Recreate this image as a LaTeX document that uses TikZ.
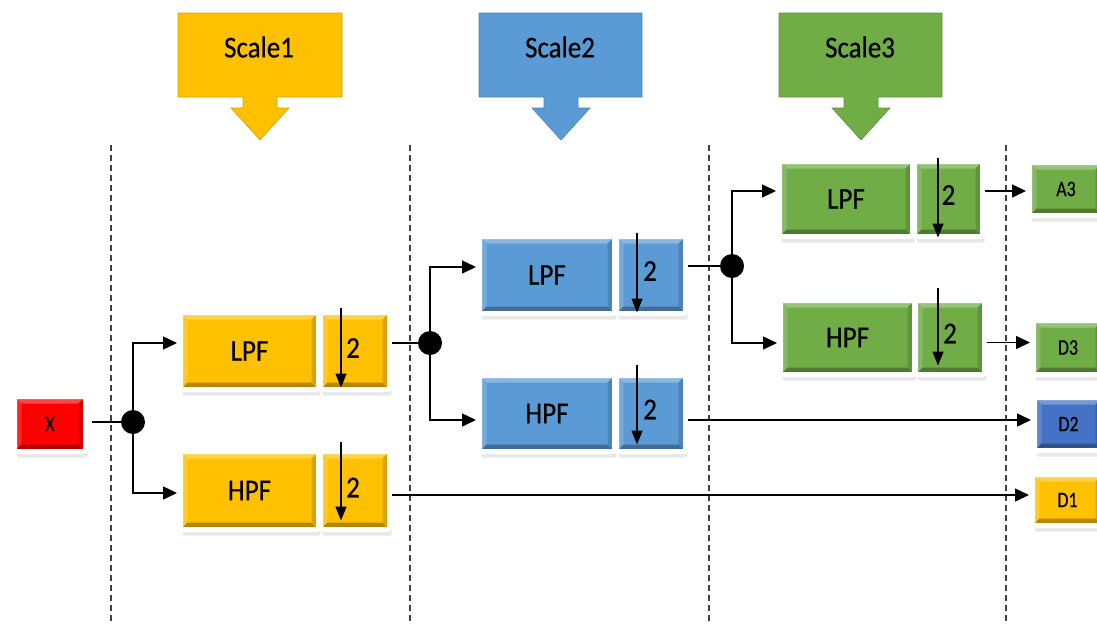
\documentclass[tikz,border=0pt]{standalone}
\usepackage{fontspec}
\setmainfont{Carlito}
\newfontfamily\embf{Carlito}[FakeBold=0.5]
\usetikzlibrary{shadows,arrows.meta,calc}
\definecolor{cy}{HTML}{FFC000}
\definecolor{cb}{HTML}{5B9BD5}
\definecolor{cg}{HTML}{70AD47}
\definecolor{cd}{HTML}{4472C4}
\definecolor{cr}{HTML}{FF0000}
\newcommand\bigtxt[1]{\embf\fontsize{27}{27}\selectfont\scalebox{1}[1.12]{#1}}
\newcommand\smtxt[1]{\embf\fontsize{21}{21}\selectfont\scalebox{0.85}[1.05]{#1}}
\tikzset{
  bev/.style={rectangle, inner sep=0pt, rounded corners=2pt, fill=#1, draw=white, line width=5pt,
    drop shadow={opacity=0.18, shadow xshift=2pt, shadow yshift=-6pt},
    path picture={
      \coordinate (ppsw) at (path picture bounding box.south west);
      \coordinate (ppne) at (path picture bounding box.north east);
      \coordinate (ppnw) at (path picture bounding box.north west);
      \coordinate (ppse) at (path picture bounding box.south east);
      \fill[sharp corners,#1!72!white] (ppnw) -- (ppne) -- ([xshift=-7pt,yshift=-7pt]ppne) -- ([xshift=7pt,yshift=-7pt]ppnw) -- cycle;
      \fill[sharp corners,#1!85!white] (ppnw) -- (ppsw) -- ([xshift=7pt,yshift=7pt]ppsw) -- ([xshift=7pt,yshift=-7pt]ppnw) -- cycle;
      \fill[sharp corners,#1!70!black] (ppsw) -- (ppse) -- ([xshift=-7pt,yshift=7pt]ppse) -- ([xshift=7pt,yshift=7pt]ppsw) -- cycle;
      \fill[sharp corners,#1!85!black] (ppne) -- (ppse) -- ([xshift=-7pt,yshift=7pt]ppse) -- ([xshift=-7pt,yshift=-7pt]ppne) -- cycle;
    }},
  dot/.style={circle, fill=black, inner sep=0pt, minimum size=24pt},
  ln/.style={line width=1.5pt, black},
  arr/.style={line width=1.5pt, black, -{Triangle[length=14pt,width=13pt]}, shorten >=1pt},
  dn/.style={line width=1.5pt, black, -{Triangle[length=14pt,width=11pt]}},
  sep/.style={line width=1.2pt, black!75, dash pattern=on 6pt off 4pt},
  lab/.style={inner sep=0pt},
}
\begin{document}
\begin{tikzpicture}[x=1pt,y=-1pt]
\useasboundingbox (0,0) rectangle (1097,624);
% separators
\foreach \xx in {111,410,709,1006}{\draw[sep] (\xx,145) -- (\xx,624);}
% callouts
\filldraw[fill=cy, draw=cy!85!black, line width=0.6pt] (178,13) -- (342,13) -- (342,97) -- (277,97) -- (277,108) -- (289,108) -- (260,140) -- (231,108) -- (243,108) -- (243,97) -- (178,97) -- cycle;
\node[lab] (sc1) at (259,47) {\bigtxt{Scale1}};
\filldraw[fill=cb, draw=cb!85!black, line width=0.6pt] (479,13) -- (642,13) -- (642,97) -- (578,97) -- (578,108) -- (590,108) -- (561,140) -- (532,108) -- (544,108) -- (544,97) -- (479,97) -- cycle;
\node[lab] (sc2) at (560,47) {\bigtxt{Scale2}};
\filldraw[fill=cg, draw=cg!85!black, line width=0.6pt] (779,13) -- (942,13) -- (942,97) -- (878,97) -- (878,108) -- (890,108) -- (861,140) -- (832,108) -- (844,108) -- (844,97) -- (779,97) -- cycle;
\node[lab] (sc3) at (860,47) {\bigtxt{Scale3}};
% input
\node[bev=cr, minimum width=71pt, minimum height=55pt] (x) at (50,424) {\smtxt{X}};
% scale 1
\node[bev=cy, minimum width=138pt, minimum height=77pt] (l1) at (249.5,351) {\bigtxt{LPF}};
\node[bev=cy, minimum width=69pt, minimum height=77pt] (s1) at (355,351) {};
\node[lab] (s1t) at ([xshift=-2pt,yshift=3pt]s1.center) {\bigtxt{2}};
\node[bev=cy, minimum width=138pt, minimum height=78pt] (h1) at (249.5,490.5) {\bigtxt{HPF}};
\node[bev=cy, minimum width=69pt, minimum height=78pt] (t1) at (355,490.5) {};
\node[lab] (t1t) at ([xshift=-2pt,yshift=3pt]t1.center) {\bigtxt{2}};
% scale 2
\node[bev=cb, minimum width=135pt, minimum height=77pt] (l2) at (547,275) {\bigtxt{LPF}};
\node[bev=cb, minimum width=69pt, minimum height=77pt] (s2) at (651,275) {};
\node[lab] (s2t) at ([xshift=-1pt,yshift=4pt]s2.center) {\bigtxt{2}};
\node[bev=cb, minimum width=135pt, minimum height=76pt] (h2) at (547,413.5) {\bigtxt{HPF}};
\node[bev=cb, minimum width=69pt, minimum height=76pt] (t2) at (651,413.5) {};
\node[lab] (t2t) at ([xshift=-1pt,yshift=4pt]t2.center) {\bigtxt{2}};
% scale 3
\node[bev=cg, minimum width=133pt, minimum height=75pt] (l3) at (846,199) {\bigtxt{LPF}};
\node[bev=cg, minimum width=68pt, minimum height=75pt] (s3) at (948.5,199) {};
\node[lab] (s3t) at ([xshift=0pt,yshift=4pt]s3.center) {\bigtxt{2}};
\node[bev=cg, minimum width=134pt, minimum height=74pt] (h3) at (847.5,337.5) {\bigtxt{HPF}};
\node[bev=cg, minimum width=69pt, minimum height=74pt] (t3) at (950,337.5) {};
\node[lab] (t3t) at ([xshift=0pt,yshift=4pt]t3.center) {\bigtxt{2}};
% outputs
\node[bev=cg, minimum width=73pt, minimum height=53pt] (a3) at (1066,189) {\smtxt{A3}};
\node[bev=cg, minimum width=69pt, minimum height=54pt] (o3) at (1068,347.5) {\smtxt{D3}};
\node[bev=cd, minimum width=68pt, minimum height=53pt] (o2) at (1068.5,424) {\smtxt{D2}};
\node[bev=cy, minimum width=70pt, minimum height=51pt] (o1) at (1067.5,500) {\smtxt{D1}};
% downsampling arrows
\draw[dn] ([xshift=-14pt,yshift=2.5pt]s1.north) -- ([xshift=-14pt,yshift=4.5pt]s1.south);
\draw[dn] ([xshift=-14pt,yshift=7.5pt]t1.north) -- ([xshift=-14pt,yshift=11.5pt]t1.south);
\draw[dn] ([xshift=-14pt,yshift=1.5pt]s2.north) -- ([xshift=-14pt,yshift=3.5pt]s2.south);
\draw[dn] ([xshift=-14pt,yshift=8.5pt]t2.north) -- ([xshift=-14pt,yshift=9.5pt]t2.south);
\draw[dn] ([xshift=-10.5pt,yshift=1.5pt]s3.north) -- ([xshift=-10.5pt,yshift=1.5pt]s3.south);
\draw[dn] ([xshift=-12pt,yshift=10.5pt]t3.north) -- ([xshift=-12pt,yshift=11.5pt]t3.south);
% junctions
\node[dot] (j1) at (133,422) {};
\node[dot] (j2) at (430,343) {};
\node[dot] (j3) at (732,266) {};
% connectors
\draw[ln, shorten <=4pt] (j1 -| x.east) -- (j1);
\draw[arr] (j1) |- ([yshift=8pt]l1.west);
\draw[arr] (j1) |- ([yshift=-2.5pt]h1.west);
\draw[ln] (j2 -| s1.east) -- (j2);
\draw[arr] (j2) |- ([yshift=8pt]l2.west);
\draw[arr] (j2) |- ([yshift=-6.5pt]h2.west);
\draw[ln] (j3 -| s2.east) -- (j3);
\draw[arr] (j3) |- ([yshift=8pt]l3.west);
\draw[arr] (j3) |- ([yshift=-5.5pt]h3.west);
\coordinate (e3) at ([yshift=8pt]s3.east);
\draw[arr] (e3) -- (e3 -| a3.west);
\coordinate (f3) at ([yshift=-5pt]t3.east);
\draw[arr] (f3) -- (f3 -| o3.west);
\coordinate (f2) at ([yshift=-6.5pt]t2.east);
\draw[arr] (f2) -- (f2 -| o2.west);
\coordinate (f1) at ([yshift=-4.5pt]t1.east);
\draw[arr] (f1) -- (f1 -| o1.west);
\end{tikzpicture}
\end{document}
